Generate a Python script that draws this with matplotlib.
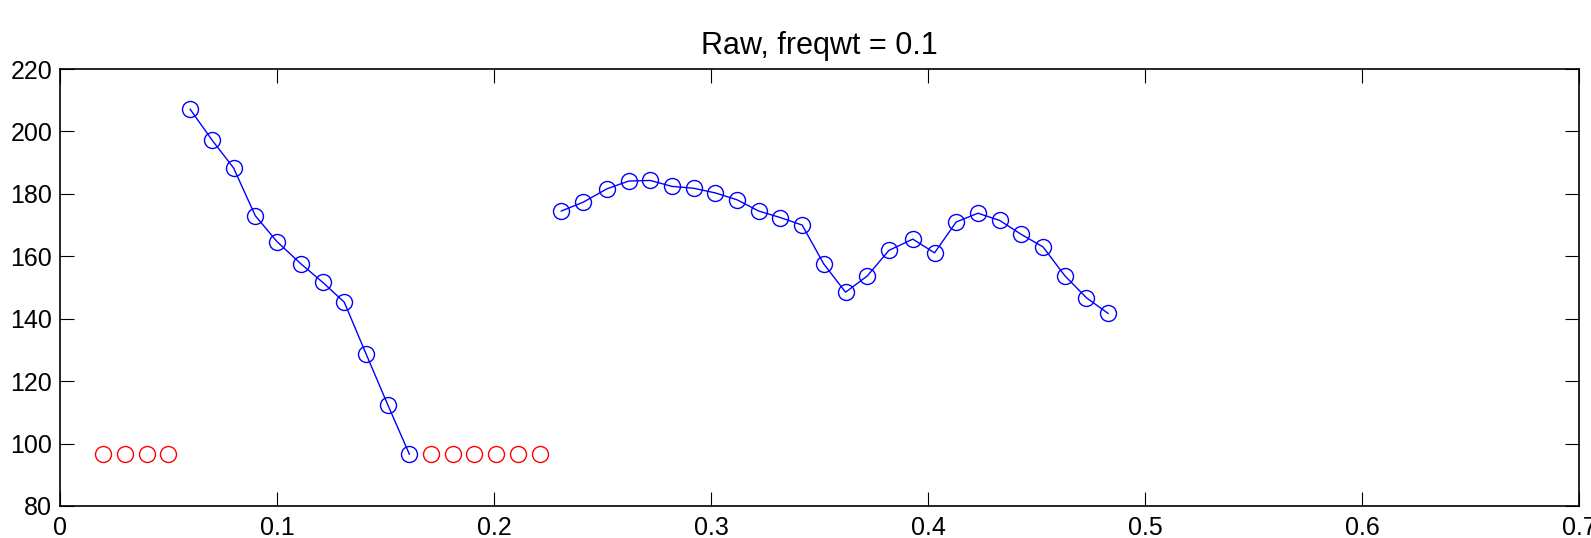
import matplotlib
import matplotlib.pyplot as plt

matplotlib.use("Agg")

plt.rcParams["font.family"] = ["Liberation Sans", "DejaVu Sans"]

# frame times (s)
times = [0.020, 0.030, 0.040, 0.050, 0.060, 0.070, 0.080, 0.090, 0.100, 0.111,
         0.121, 0.131, 0.141, 0.151, 0.161, 0.171, 0.181, 0.191, 0.201, 0.211,
         0.221, 0.231, 0.241, 0.252, 0.262, 0.272, 0.282, 0.292, 0.302, 0.312,
         0.322, 0.332, 0.342, 0.352, 0.362, 0.372, 0.382, 0.393, 0.403, 0.413,
         0.423, 0.433, 0.443, 0.453, 0.463, 0.473, 0.483]

# raw pitch estimates per frame
pitch = [96.5, 96.5, 96.5, 96.5,
         207.1, 197.3, 188.3, 173.0, 164.7, 157.6, 151.7, 145.3, 128.8, 112.5, 96.6,
         96.5, 96.5, 96.5, 96.5, 96.5, 96.5,
         174.5, 177.3, 181.6, 184.1, 184.3, 182.4, 181.8, 180.3, 178.1, 174.5,
         172.4, 170.0, 157.5, 148.5, 153.7, 161.9, 165.5, 161.1, 171.0, 173.8,
         171.5, 167.0, 163.0, 153.8, 146.7, 141.7]

# voiced segments (start, end index inclusive); the rest are unvoiced frames
voiced_segments = [(4, 14), (21, 46)]
unvoiced_idx = [0, 1, 2, 3, 15, 16, 17, 18, 19, 20]

fig = plt.figure(figsize=(15.91, 5.38), dpi=100)
ax = fig.add_axes([0.0377, 0.0595, 0.9548, 0.8122])

for start, end in voiced_segments:
    ax.plot(times[start:end + 1], pitch[start:end + 1], "-o", color="#0000ff",
            linewidth=1.0, markersize=11.5, markerfacecolor="none",
            markeredgewidth=1.0)

ax.plot([times[i] for i in unvoiced_idx], [pitch[i] for i in unvoiced_idx], "o",
        color="#ff0000", markersize=11.5, markerfacecolor="none",
        markeredgewidth=1.0, linestyle="none")

ax.set_xlim(0, 0.7)
ax.set_ylim(80, 220)
ax.set_xticks([0, 0.1, 0.2, 0.3, 0.4, 0.5, 0.6, 0.7])
ax.set_xticklabels(["0", "0.1", "0.2", "0.3", "0.4", "0.5", "0.6", "0.7"])
ax.set_yticks(range(80, 221, 20))
ax.tick_params(direction="in", length=10, width=0.8, top=True, right=True,
               labelsize=18)
ax.tick_params(axis="x", pad=7)
ax.tick_params(axis="y", pad=5.5)
for spine in ax.spines.values():
    spine.set_linewidth(1.2)

ax.set_title("Raw, freqwt = 0.1", fontsize=22, pad=11)

fig.savefig("out.png", dpi=100)
